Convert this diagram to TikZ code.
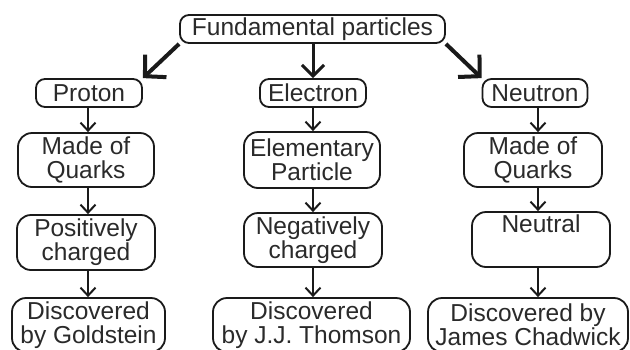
\documentclass[tikz,border=0pt]{standalone}
\usepackage{fontspec}
\setmainfont{Liberation Sans}
\usetikzlibrary{arrows.meta}
\definecolor{ink}{HTML}{1A1A1A}
\definecolor{txt}{HTML}{2A2A2A}
\begin{document}
\begin{tikzpicture}[x=1pt,y=-1pt,
  box/.style={draw=ink, line width=1.8pt, rounded corners=9pt, text=txt,
    align=center, inner sep=0pt,
    font=\fontsize{24.5}{24}\selectfont},
  bigbox/.style={box, rounded corners=14pt},
  flow/.style={draw=ink, line width=2pt,
    -{Straight Barb[length=8pt,width=15pt,line width=2pt]}},
  branch/.style={draw=ink, line width=3pt,
    -{Straight Barb[length=11pt,width=22pt,line width=3pt]}},
  diag/.style={draw=ink, line width=4pt,
    -{Straight Barb[length=15pt,width=31pt,line width=4pt]}}]
% canvas
\fill[white] (0,0) rectangle (630,349);
\useasboundingbox (0,0) rectangle (630,349);

% column axes
\coordinate (cp) at (88,0);
\coordinate (ce) at (313,0);
\coordinate (cn) at (538,0);

% root
\node[box, minimum width=265pt, minimum height=28pt] (fund) at (312.5,29) {Fundamental particles};

% second row
\node[box, minimum width=106pt, minimum height=28pt] (proton)   at (89,93)  {Proton};
\node[box, minimum width=106pt, minimum height=28pt] (electron) at (313,93) {Electron};
\node[box, minimum width=105pt, minimum height=28pt] (neutron)  at (535,93) {Neutron};

% proton column
\node[bigbox, minimum width=136pt, minimum height=54pt] (pq)   at (86,160)  {Made of\\Quarks};
\node[bigbox, minimum width=138pt, minimum height=55pt] (ppos) at (86,242.5) {Positively\\charged};
\node[bigbox, minimum width=153pt, minimum height=54pt] (pdis) at (88.5,325) {Discovered\\by Goldstein};

% electron column
\node[bigbox, minimum width=136pt, minimum height=56pt] (eel)  at (312,160) {Elementary\\Particle};
\node[bigbox, minimum width=138pt, minimum height=54pt] (eneg) at (313,240) {Negatively\\charged};
\node[bigbox, minimum width=197pt, minimum height=54pt] (edis) at (311.5,325) {Discovered\\by J.J. Thomson};

% neutron column
\node[bigbox, minimum width=138pt, minimum height=54pt] (nq)   at (533,160) {Made of\\Quarks};
\node[bigbox, minimum width=138pt, minimum height=55pt] (nneu) at (541,239.5) {Neutral\\\strut};
\node[bigbox, minimum width=200pt, minimum height=54pt] (ndis) at (528,325) {Discovered by\\James Chadwick};

% branches from the root
\draw[diag]   (fund.south west) -- (proton.north east);
\draw[branch] (fund.south -| ce) -- (electron.north -| ce);
\draw[diag]   (fund.south east) -- (neutron.north west);

% proton chain
\draw[flow] (proton.south -| cp) -- (pq.north -| cp);
\draw[flow] (pq.south -| cp) -- (ppos.north -| cp);
\draw[flow] (ppos.south -| cp) -- (pdis.north -| cp);

% electron chain
\draw[flow] (electron.south -| ce) -- (eel.north -| ce);
\draw[flow] (eel.south -| ce) -- (eneg.north -| ce);
\draw[flow] (eneg.south -| ce) -- (edis.north -| ce);

% neutron chain
\draw[flow] (neutron.south -| cn) -- (nq.north -| cn);
\draw[flow] (nq.south -| cn) -- (nneu.north -| cn);
\draw[flow] (nneu.south -| cn) -- (ndis.north -| cn);
\end{tikzpicture}
\end{document}
